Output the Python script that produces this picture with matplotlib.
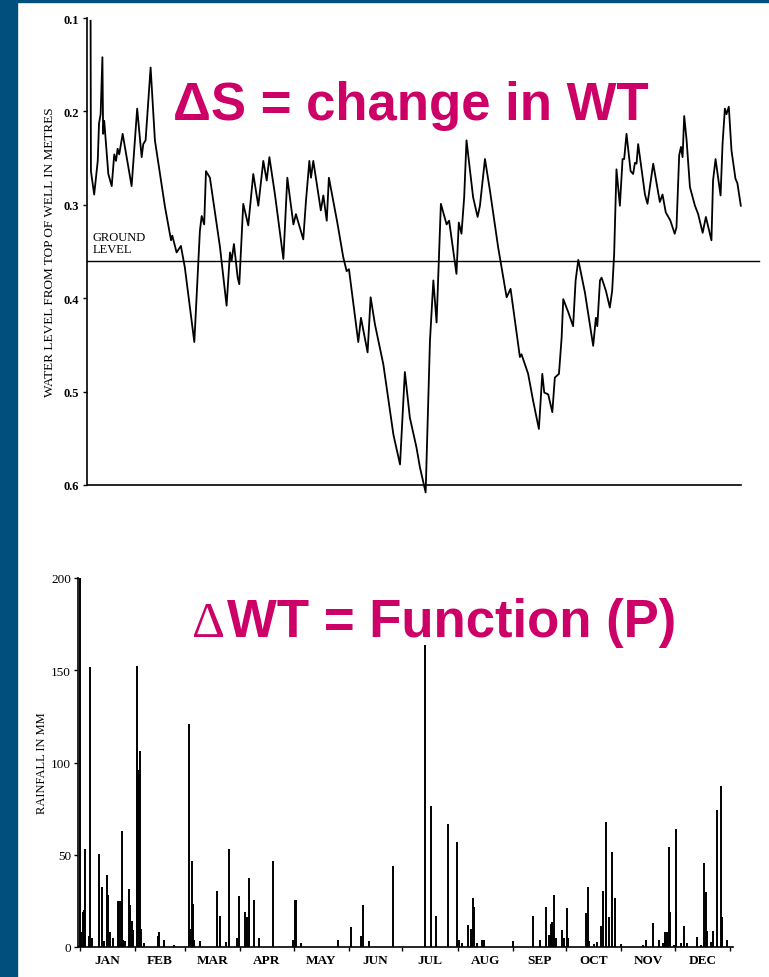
import matplotlib.pyplot as plt
from matplotlib.patches import Rectangle

# water level record (day of year, metres below top of well)
wl_day = [2, 2.2, 4, 6, 6.7, 7.6, 8.6, 9, 9.6, 11.9, 13.8, 15.2, 16.2, 17.1, 18, 19.9,
          24.9, 28, 30.5, 31.4, 32.7, 35.5, 37.9, 43.5, 46.9, 47.6, 50, 52.4, 54.6, 59.9,
          63, 64, 65.4, 66.4, 68.6, 74.2, 77.9, 79.8, 80.7, 82, 84.1, 85, 87.2, 90, 92.8,
          95.6, 98.4, 100.3, 101.8, 104.9, 109.6, 111.8, 115.2, 116.6, 120.7, 122.2, 124.1,
          125, 126.3, 130.5, 131.9, 133.8, 135, 139.7, 143, 144.9, 146.2, 151.4, 152.9,
          156.6, 158.3, 160.7, 165.4, 171, 174.7, 177.4, 180.2, 183.9, 185.8, 189, 191.4,
          193.3, 195.1, 197.5, 200.7, 202.1, 206.2, 207.5, 209, 210.5, 211.8, 215.5, 218,
          219.3, 222.1, 224.9, 229.5, 234.2, 236.4, 241.6, 242.5, 246.2, 249, 252.2, 254.1,
          255.2, 257.4, 259.7, 261.1, 263.4, 264.9, 265.8, 268.6, 271.3, 272.7, 274.2,
          277.9, 282.5, 284, 284.8, 286.3, 287.2, 289.6, 291.8, 293.1, 294.2, 295.5, 297.4,
          298.9, 299.8, 301.1, 303.4, 304.8, 305.8, 306.7, 307.6, 311.4, 312.8, 316, 319.7,
          321.2, 323, 325.6, 328, 329, 330.5, 331.5, 332.4, 333.3, 334.6, 336.5, 339.3,
          341.1, 343.6, 345.4, 348.5, 349.4, 350.8, 353.6, 354.7, 356, 356.9, 358.2, 359.7,
          361.9, 363, 364.9]
wl_level = [0.103, 0.264, 0.289, 0.253, 0.213, 0.203, 0.142, 0.224, 0.210, 0.267, 0.280,
            0.246, 0.253, 0.240, 0.246, 0.224, 0.280, 0.197, 0.249, 0.235, 0.231, 0.153,
            0.231, 0.302, 0.338, 0.333, 0.351, 0.344, 0.367, 0.447, 0.328, 0.312, 0.321,
            0.264, 0.271, 0.345, 0.408, 0.351, 0.360, 0.342, 0.378, 0.385, 0.299, 0.322,
            0.267, 0.301, 0.253, 0.274, 0.249, 0.289, 0.358, 0.271, 0.321, 0.310, 0.337,
            0.296, 0.253, 0.271, 0.253, 0.306, 0.290, 0.317, 0.271, 0.319, 0.356, 0.371,
            0.369, 0.447, 0.421, 0.458, 0.399, 0.428, 0.471, 0.546, 0.578, 0.479, 0.528,
            0.560, 0.581, 0.608, 0.446, 0.381, 0.426, 0.299, 0.321, 0.317, 0.374, 0.319,
            0.331, 0.292, 0.231, 0.292, 0.313, 0.301, 0.251, 0.285, 0.346, 0.399, 0.390,
            0.463, 0.460, 0.481, 0.510, 0.540, 0.481, 0.501, 0.503, 0.522, 0.485, 0.481,
            0.442, 0.401, 0.415, 0.430, 0.381, 0.359, 0.394, 0.451, 0.421, 0.430, 0.381,
            0.378, 0.392, 0.410, 0.392, 0.353, 0.262, 0.301, 0.251, 0.251, 0.224, 0.264,
            0.267, 0.255, 0.256, 0.235, 0.289, 0.299, 0.256, 0.297, 0.289, 0.308, 0.317,
            0.331, 0.324, 0.247, 0.238, 0.249, 0.205, 0.230, 0.281, 0.301, 0.310, 0.330,
            0.313, 0.338, 0.274, 0.251, 0.290, 0.235, 0.197, 0.203, 0.195, 0.242, 0.272,
            0.277, 0.301]
ground_level = 0.36

# daily rainfall (day of year, mm)
rain_day = [0, 0.5, 1.5, 2.3, 2.8, 5, 5.6, 7, 10.8, 12.5, 13.5, 15, 15.9, 16.8, 18.8,
            21.5, 22.2, 22.8, 23.4, 24.2, 25.5, 27.4, 28.2, 29.2, 30, 31.8, 32.2, 32.7,
            33.1, 33.7, 33.4, 34.3, 36, 44, 44.6, 47, 53, 61.4, 61.9, 62.9, 63.6, 64.2,
            67.4, 76.7, 78.6, 81.9, 83.9, 88, 89.1, 92.8, 93.9, 94.9, 97.7, 100.5, 108.5,
            119.8, 120.6, 121.5, 124.4, 145, 152.2, 157.6, 158.7, 162.4, 176, 193.7, 197,
            199.9, 206.8, 211.9, 213, 214.8, 218, 219.3, 220.5, 221.2, 223, 225.8, 226.7,
            243, 254.5, 258.2, 261.7, 263.5, 264.4, 265.3, 266.2, 267.5, 270.6, 272, 273.3,
            274.2, 284, 285.2, 286, 288.7, 290.2, 292.3, 293.5, 295.4, 297.2, 298.5, 300.4,
            303.6, 316.3, 317.8, 321.6, 325.4, 327.6, 328.3, 328.7, 329.6, 330.9, 331.4,
            333.3, 334.5, 334.9, 337.5, 339.1, 340.6, 346.7, 349, 350.4, 351.3, 352.2,
            354.3, 355.6, 357.5, 359.7, 360.7, 363.3]
rain_mm = [200, 8, 19, 20, 53, 6, 152, 5, 50.5, 32.4, 3, 38.8, 28, 8, 5,
           25, 25, 25, 62.7, 4, 3, 31.5, 23, 14, 9, 152.5, 96, 96,
           96, 106, 15, 10, 2, 6, 8, 4, 1, 121, 10, 46.4, 23.5, 4,
           3, 30.6, 17, 2.5, 53, 5, 27.5, 19, 16, 37.3, 25.7, 5, 46.4,
           4, 25.7, 25.7, 2, 4, 11, 6, 22.8, 3, 43.8, 163.8, 76.5,
           16.7, 66.5, 56.9, 4, 2, 12, 9.7, 26.5, 21.6, 2, 4, 4,
           3, 17, 4, 21.6, 6.7, 12.7, 13.5, 28.3, 5, 9, 5, 21,
           5, 18.5, 32.4, 3.3, 1.5, 2.5, 11.6, 30.6, 67.8, 16.5, 51.5, 26.5,
           1.5, 1, 4, 13, 4, 2.2, 4, 8.3, 8.3, 54.2, 18.7,
           1, 64, 19.5, 2, 11.2, 2, 5.5, 1, 45.5, 30, 8.7,
           2.5, 8.7, 74, 87, 16, 4]

months = ['JAN', 'FEB', 'MAR', 'APR', 'MAY', 'JUN', 'JUL', 'AUG', 'SEP', 'OCT', 'NOV', 'DEC']
month_start = [0, 31, 59, 90, 120, 151, 181, 212, 243, 273, 304, 334, 365]

SERIF = 'Liberation Serif'
MAGENTA = '#cc0066'

fig = plt.figure(figsize=(7.69, 9.78), dpi=100)
fig.patches.append(Rectangle((0, 0), 17 / 769, 1, transform=fig.transFigure,
                             color='#004f7c', zorder=0))
fig.patches.append(Rectangle((0, 1 - 3 / 978), 1, 3 / 978, transform=fig.transFigure,
                             color='#004f7c', zorder=0))

# --- water level panel
ax1 = fig.add_axes([87 / 769, 1 - 486 / 978, 654 / 769, 467 / 978])
ax1.plot(wl_day, wl_level, color='black', lw=1.3, clip_on=False)
ax1.axhline(ground_level, xmin=0, xmax=1.028, color='black', lw=1.0, clip_on=False)
ax1.text(3, ground_level - 0.006, 'GROUND\nLEVEL', family=SERIF, fontsize=9,
         va='bottom', ha='left', linespacing=1.0)
ax1.set_xlim(0, 365)
ax1.set_ylim(0.6, 0.1)
ax1.set_yticks([0.1, 0.2, 0.3, 0.4, 0.5, 0.6])
ax1.set_yticklabels(['0.1', '0.2', '0.3', '0.4', '0.5', '0.6'], family=SERIF,
                    fontsize=9, fontweight='bold')
ax1.set_xticks([])
ax1.tick_params(axis='y', length=3, width=1, pad=3)
for s in ['top', 'right']:
    ax1.spines[s].set_visible(False)
ax1.spines['left'].set_linewidth(1.2)
ax1.spines['bottom'].set_linewidth(1.2)
ax1.set_ylabel('WATER LEVEL FROM TOP OF WELL IN METRES', family=SERIF, fontsize=9.5,
               labelpad=5)
ax1.patch.set_alpha(0)

# --- rainfall panel
ax2 = fig.add_axes([78 / 769, 1 - 948 / 978, 655 / 769, 369 / 978])
ax2.vlines(rain_day, 0, rain_mm, color='black', lw=1.4)
ax2.set_xlim(-1.1, 366.7)
ax2.set_ylim(0, 200)
ax2.set_yticks([0, 50, 100, 150, 200])
ax2.set_yticklabels(['0', '50', '100', '150', '200'], family=SERIF, fontsize=9.5)
ax2.set_xticks(month_start)
ax2.set_xticklabels([])
ax2.set_xticks([(a + b) / 2 for a, b in zip(month_start[:-1], month_start[1:])],
               minor=True)
ax2.set_xticklabels(months, minor=True, family=SERIF, fontsize=9.5, fontweight='bold')
ax2.tick_params(axis='x', which='minor', length=0, pad=5)
ax2.tick_params(axis='x', which='major', length=3, width=1)
ax2.tick_params(axis='y', length=3, width=1, pad=2)
for s in ['top', 'right']:
    ax2.spines[s].set_visible(False)
ax2.spines['left'].set_linewidth(1.2)
ax2.spines['bottom'].set_linewidth(1.2)
ax2.set_ylabel('RAINFALL IN MM', family=SERIF, fontsize=9, labelpad=2)
ax2.patch.set_alpha(0)

# --- slide captions
fig.text(173 / 769, 1 - 120 / 978, 'ΔS = change in WT', family='Liberation Sans',
         fontweight='bold', fontsize=38, color=MAGENTA, ha='left', va='baseline')
fig.text(225 / 769, 1 - 637 / 978, 'Δ', family=SERIF,
         fontsize=37, color=MAGENTA, ha='right', va='baseline')
fig.text(227 / 769, 1 - 637 / 978, 'WT = Function (P)', family='Liberation Sans',
         fontweight='bold', fontsize=38, color=MAGENTA, ha='left', va='baseline')

plt.savefig('out.png', dpi=100)
